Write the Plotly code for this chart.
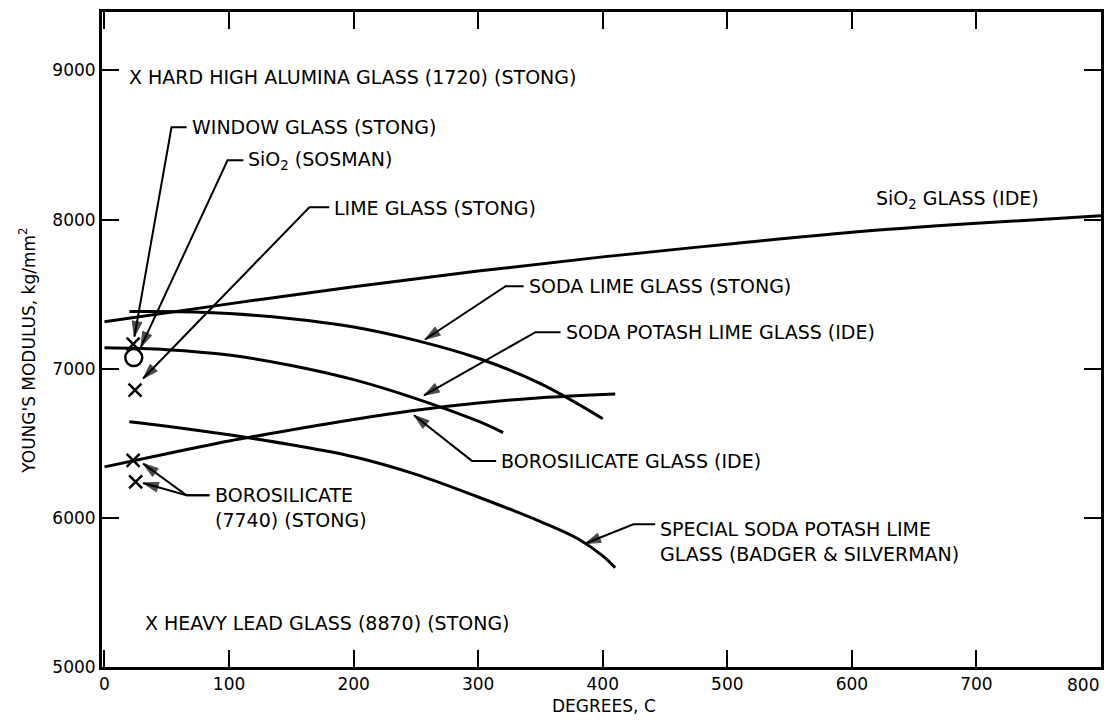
import plotly.graph_objects as go

# ---- curve data (degrees C, Young's modulus kg/mm^2) ----
sio2_ide_x = [0, 100, 200, 300, 400, 500, 600, 700, 800]
sio2_ide_y = [7315, 7435, 7550, 7655, 7750, 7835, 7915, 7975, 8025]

soda_lime_x = [20, 60, 100, 150, 200, 250, 300, 350, 400]
soda_lime_y = [7383, 7382, 7370, 7335, 7280, 7190, 7070, 6900, 6665]

soda_potash_x = [0, 50, 100, 150, 200, 250, 300, 320]
soda_potash_y = [7140, 7128, 7092, 7022, 6927, 6800, 6648, 6572]

borosilicate_ide_x = [0, 50, 100, 150, 200, 250, 300, 350, 410]
borosilicate_ide_y = [6342, 6430, 6515, 6590, 6660, 6722, 6770, 6805, 6830]

special_x = [20, 50, 100, 150, 200, 250, 300, 350, 380, 400, 410]
special_y = [6645, 6615, 6557, 6490, 6410, 6292, 6140, 5975, 5860, 5745, 5665]

# ---- single point measurements ----
x_points_x = [23, 24.5, 23, 25]          # window glass, lime glass, borosilicate 7740 (two)
x_points_y = [7165, 6856, 6386, 6241]
circle_x = [23.5]                          # SiO2 (Sosman)
circle_y = [7075]

x_ticks = [0, 100, 200, 300, 400, 500, 600, 700, 800]
x_tick_labels = ["0", "100", "200", "300", "400", "500", "600", "700", "800"]
y_ticks = [5000, 6000, 7000, 8000, 9000]
y_tick_labels = ["5000", "6000", "7000", "8000", "9000"]

# ---- callouts: text, text position, leader bend point, arrow tips ----
callout_texts = [
    "WINDOW GLASS (STONG)",
    "SiO<sub>2</sub> (SOSMAN)",
    "LIME GLASS (STONG)",
    "SODA LIME GLASS (STONG)",
    "SODA POTASH LIME GLASS (IDE)",
    "BOROSILICATE GLASS (IDE)",
    "SPECIAL SODA POTASH LIME<br>GLASS (BADGER & SILVERMAN)",
    "BOROSILICATE<br>(7740) (STONG)",
]
callout_text_x = [68.4, 114, 183, 339, 368.6, 317, 444.6, 86.8]
callout_text_y = [8619, 8395, 8078, 7553, 7247, 6382, 5843, 6068]
callout_bend_x = [53.8, 98.8, 164.5, 322, 346, 295, 424.6, 65.8]
callout_bend_y = [8619, 8398, 8083, 7553, 7245, 6382, 5957, 6152]
callout_tips = [
    [(24, 7215)],
    [(29.2, 7145)],
    [(31, 6934)],
    [(257.3, 7196)],
    [(256.5, 6822)],
    [(248.5, 6688)],
    [(386, 5828)],
    [(31, 6364), (31, 6234)],
]

plain_texts = ["X HARD HIGH ALUMINA GLASS (1720) (STONG)",
               "X HEAVY LEAD GLASS (8870) (STONG)",
               "SiO<sub>2</sub> GLASS (IDE)"]
plain_x = [18, 30.8, 618]
plain_y = [8955, 5293, 8135]

FONT = "DejaVu Sans"
BLACK = "black"

fig = go.Figure()
for xs, ys in [(sio2_ide_x, sio2_ide_y), (soda_lime_x, soda_lime_y),
               (soda_potash_x, soda_potash_y), (borosilicate_ide_x, borosilicate_ide_y),
               (special_x, special_y)]:
    fig.add_trace(go.Scatter(x=xs, y=ys, mode="lines",
                             line=dict(color=BLACK, width=3, shape="spline", smoothing=1.0),
                             hoverinfo="skip", showlegend=False))

fig.add_trace(go.Scatter(x=x_points_x, y=x_points_y, mode="markers",
                         marker=dict(symbol="x-thin", size=13, color=BLACK,
                                     line=dict(color=BLACK, width=2.5)),
                         hoverinfo="skip", showlegend=False))
fig.add_trace(go.Scatter(x=circle_x, y=circle_y, mode="markers",
                         marker=dict(symbol="circle-open", size=17, color=BLACK,
                                     line=dict(color=BLACK, width=2.5)),
                         hoverinfo="skip", showlegend=False))

annotations = []
for i, text in enumerate(callout_texts):
    tx, ty = callout_text_x[i], callout_text_y[i]
    bx, by = callout_bend_x[i], callout_bend_y[i]
    annotations.append(dict(x=tx, y=ty, xref="x", yref="y", text=text, showarrow=False,
                            xanchor="left", yanchor="middle", align="left",
                            font=dict(family=FONT, size=19, color=BLACK)))
    for (px, py) in callout_tips[i]:
        fig.add_trace(go.Scatter(
            x=[tx - 2.5, bx, px], y=[by, by, py], mode="lines+markers",
            line=dict(color=BLACK, width=2),
            marker=dict(symbol="arrow", size=[0, 0, 16], color=BLACK, angleref="previous",
                        line=dict(width=1, color=BLACK)),
            hoverinfo="skip", showlegend=False))

for text, tx, ty in zip(plain_texts, plain_x, plain_y):
    annotations.append(dict(x=tx, y=ty, xref="x", yref="y", text=text, showarrow=False,
                            xanchor="left", yanchor="middle",
                            font=dict(family=FONT, size=19, color=BLACK)))

# last x tick label, kept inside the frame (right aligned as in the original)
annotations.append(dict(x=x_ticks[-1], y=-0.0275, xref="x", yref="paper", text=x_tick_labels[-1],
                        showarrow=False, xanchor="right", yanchor="middle",
                        font=dict(family=FONT, size=17, color=BLACK)))

# axis titles
annotations.append(dict(x=0.503, y=-0.06, xref="paper", yref="paper", text="DEGREES, C",
                        showarrow=False, xanchor="center", yanchor="middle",
                        font=dict(family=FONT, size=17, color=BLACK)))
annotations.append(dict(x=-0.075, y=0.483, xref="paper", yref="paper",
                        text="YOUNG'S MODULUS, kg/mm<sup>2</sup>", textangle=-90,
                        showarrow=False, xanchor="center", yanchor="middle",
                        font=dict(family=FONT, size=17, color=BLACK)))

axis_common = dict(showgrid=False, zeroline=False, showline=True, linecolor=BLACK, linewidth=3,
                   mirror="allticks", ticks="inside", ticklen=17, tickwidth=2, tickcolor=BLACK,
                   tickfont=dict(family=FONT, size=17, color=BLACK))

fig.update_layout(
    width=1107, height=726,
    margin=dict(l=102, r=3, t=12, b=59),
    paper_bgcolor="white", plot_bgcolor="white",
    xaxis=dict(range=[-2, 800], tickvals=x_ticks[:-1], ticktext=x_tick_labels[:-1], **axis_common),
    yaxis=dict(range=[5000, 9392], tickvals=y_ticks, ticktext=y_tick_labels, **axis_common),
    annotations=annotations,
    showlegend=False,
)

fig.write_html("out.html", config={"displayModeBar": False},
               post_script="document.body.style.margin='0';document.body.style.padding='0';")
